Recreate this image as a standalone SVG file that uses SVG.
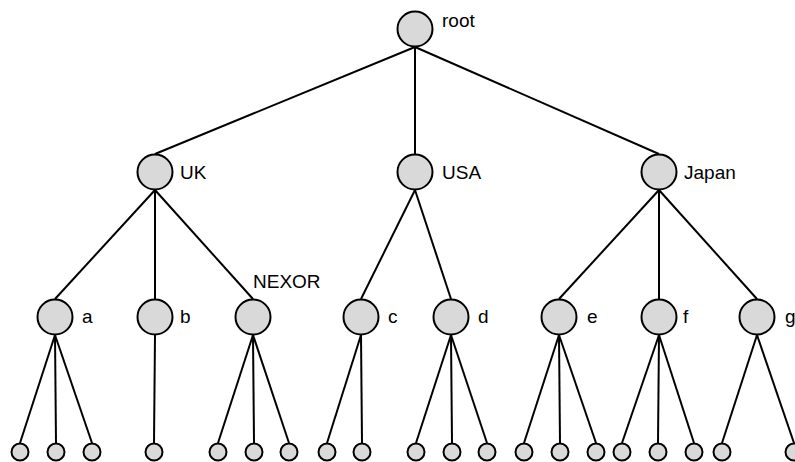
<svg xmlns="http://www.w3.org/2000/svg" width="795" height="462" viewBox="0 0 795 462">
<style>
.n{fill:#d9d9d9;stroke:#000;stroke-width:2}
.e line{stroke:#000;stroke-width:2}
text{font-family:"Liberation Sans",Arial,sans-serif;font-size:19px;fill:#000}
</style>
<rect width="795" height="462" fill="#fff"/>
<g class="e" id="connectors">
<line x1="415" y1="47" x2="155" y2="154"/>
<line x1="415" y1="47" x2="415" y2="154"/>
<line x1="415" y1="47" x2="659" y2="154"/>
<line x1="155" y1="190" x2="55" y2="299"/>
<line x1="155" y1="190" x2="155" y2="299"/>
<line x1="155" y1="190" x2="253" y2="299"/>
<line x1="415" y1="190" x2="361" y2="299"/>
<line x1="415" y1="190" x2="451" y2="299"/>
<line x1="659" y1="190" x2="559" y2="299"/>
<line x1="659" y1="190" x2="659" y2="299"/>
<line x1="659" y1="190" x2="757" y2="299"/>
<line x1="55" y1="335" x2="20" y2="443"/>
<line x1="55" y1="335" x2="56" y2="443"/>
<line x1="55" y1="335" x2="92" y2="443"/>
<line x1="155" y1="335" x2="154" y2="443"/>
<line x1="253" y1="335" x2="218" y2="443"/>
<line x1="253" y1="335" x2="254" y2="443"/>
<line x1="253" y1="335" x2="289" y2="443"/>
<line x1="361" y1="335" x2="327" y2="443"/>
<line x1="361" y1="335" x2="362" y2="443"/>
<line x1="451" y1="335" x2="416" y2="443"/>
<line x1="451" y1="335" x2="452" y2="443"/>
<line x1="451" y1="335" x2="487" y2="443"/>
<line x1="559" y1="335" x2="524" y2="443"/>
<line x1="559" y1="335" x2="560" y2="443"/>
<line x1="559" y1="335" x2="596" y2="443"/>
<line x1="659" y1="335" x2="622" y2="443"/>
<line x1="659" y1="335" x2="658" y2="443"/>
<line x1="659" y1="335" x2="694" y2="443"/>
<line x1="757" y1="335" x2="722" y2="443"/>
<line x1="757" y1="335" x2="794" y2="443"/>
</g>
<g id="root"><circle class="n" cx="415" cy="29" r="17.5"/><text x="442" y="27">root</text></g>
<g id="UK"><circle class="n" cx="155" cy="172" r="17.5"/><text x="180" y="179">UK</text></g>
<g id="USA"><circle class="n" cx="415" cy="172" r="17.5"/><text x="442" y="179">USA</text></g>
<g id="Japan"><circle class="n" cx="659" cy="172" r="17.5"/><text x="684" y="179">Japan</text></g>
<g id="a"><circle class="n" cx="55" cy="317" r="17.5"/><text x="82" y="323">a</text></g>
<g id="b"><circle class="n" cx="155" cy="317" r="17.5"/><text x="180" y="323">b</text></g>
<g id="NEXOR"><circle class="n" cx="253" cy="317" r="17.5"/><text x="253" y="288">NEXOR</text></g>
<g id="c"><circle class="n" cx="361" cy="317" r="17.5"/><text x="388" y="323">c</text></g>
<g id="d"><circle class="n" cx="451" cy="317" r="17.5"/><text x="478" y="323">d</text></g>
<g id="e"><circle class="n" cx="559" cy="317" r="17.5"/><text x="587" y="323">e</text></g>
<g id="f"><circle class="n" cx="659" cy="317" r="17.5"/><text x="683" y="323">f</text></g>
<g id="g"><circle class="n" cx="757" cy="317" r="17.5"/><text x="785" y="323">g</text></g>
<g id="leaf-a1"><circle class="n" cx="20" cy="452" r="8.5"/></g>
<g id="leaf-a2"><circle class="n" cx="56" cy="452" r="8.5"/></g>
<g id="leaf-a3"><circle class="n" cx="92" cy="452" r="8.5"/></g>
<g id="leaf-b1"><circle class="n" cx="154" cy="452" r="8.5"/></g>
<g id="leaf-n1"><circle class="n" cx="218" cy="452" r="8.5"/></g>
<g id="leaf-n2"><circle class="n" cx="254" cy="452" r="8.5"/></g>
<g id="leaf-n3"><circle class="n" cx="289" cy="452" r="8.5"/></g>
<g id="leaf-c1"><circle class="n" cx="327" cy="452" r="8.5"/></g>
<g id="leaf-c2"><circle class="n" cx="362" cy="452" r="8.5"/></g>
<g id="leaf-d1"><circle class="n" cx="416" cy="452" r="8.5"/></g>
<g id="leaf-d2"><circle class="n" cx="452" cy="452" r="8.5"/></g>
<g id="leaf-d3"><circle class="n" cx="487" cy="452" r="8.5"/></g>
<g id="leaf-e1"><circle class="n" cx="524" cy="452" r="8.5"/></g>
<g id="leaf-e2"><circle class="n" cx="560" cy="452" r="8.5"/></g>
<g id="leaf-e3"><circle class="n" cx="596" cy="452" r="8.5"/></g>
<g id="leaf-f1"><circle class="n" cx="622" cy="452" r="8.5"/></g>
<g id="leaf-f2"><circle class="n" cx="658" cy="452" r="8.5"/></g>
<g id="leaf-f3"><circle class="n" cx="694" cy="452" r="8.5"/></g>
<g id="leaf-g1"><circle class="n" cx="722" cy="452" r="8.5"/></g>
<g id="leaf-g2"><circle class="n" cx="794" cy="452" r="8.5"/></g>
</svg>
